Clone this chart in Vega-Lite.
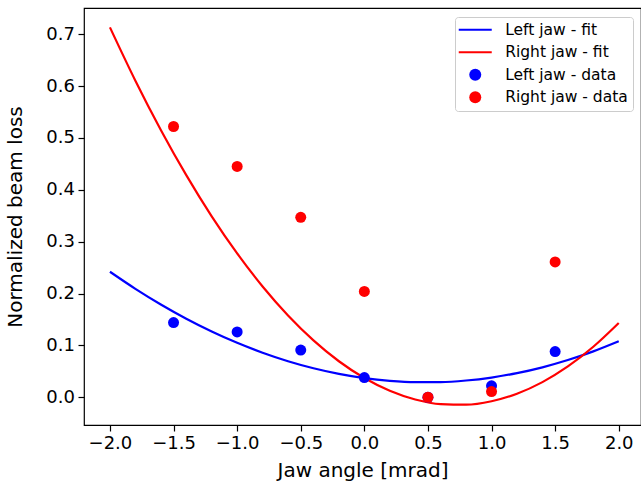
{
  "$schema": "https://vega.github.io/schema/vega-lite/v6.json",
  "width": 557,
  "height": 417,
  "autosize": {"type": "none"},
  "padding": {"left": 84, "top": 8, "right": 0, "bottom": 60},
  "background": "white",
  "config": {
    "font": "DejaVu Sans",
    "view": {"stroke": "#000000", "strokeWidth": 1.2},
    "axis": {
      "domain": false,
      "grid": false,
      "tickColor": "#000000",
      "tickSize": 6,
      "tickWidth": 1.2,
      "labelFont": "DejaVu Sans",
      "labelFontSize": 18,
      "labelColor": "#000000",
      "titleFont": "DejaVu Sans",
      "titleFontSize": 20,
      "titleFontWeight": "normal",
      "titleColor": "#000000"
    }
  },
  "data": {
    "values": [
      {"x": -2.0, "y": 0.242, "series": "Left jaw - fit"},
      {"x": -1.8, "y": 0.2091, "series": "Left jaw - fit"},
      {"x": -1.6, "y": 0.1789, "series": "Left jaw - fit"},
      {"x": -1.4, "y": 0.1515, "series": "Left jaw - fit"},
      {"x": -1.2, "y": 0.1269, "series": "Left jaw - fit"},
      {"x": -1.0, "y": 0.105, "series": "Left jaw - fit"},
      {"x": -0.8, "y": 0.0859, "series": "Left jaw - fit"},
      {"x": -0.6, "y": 0.0695, "series": "Left jaw - fit"},
      {"x": -0.4, "y": 0.0559, "series": "Left jaw - fit"},
      {"x": -0.2, "y": 0.0451, "series": "Left jaw - fit"},
      {"x": 0.0, "y": 0.037, "series": "Left jaw - fit"},
      {"x": 0.2, "y": 0.0317, "series": "Left jaw - fit"},
      {"x": 0.4, "y": 0.0291, "series": "Left jaw - fit"},
      {"x": 0.6, "y": 0.0293, "series": "Left jaw - fit"},
      {"x": 0.8, "y": 0.0323, "series": "Left jaw - fit"},
      {"x": 1.0, "y": 0.038, "series": "Left jaw - fit"},
      {"x": 1.2, "y": 0.0465, "series": "Left jaw - fit"},
      {"x": 1.4, "y": 0.0577, "series": "Left jaw - fit"},
      {"x": 1.6, "y": 0.0717, "series": "Left jaw - fit"},
      {"x": 1.8, "y": 0.0885, "series": "Left jaw - fit"},
      {"x": 2.0, "y": 0.108, "series": "Left jaw - fit"},
      {"x": -2.0, "y": 0.7132, "series": "Right jaw - fit"},
      {"x": -1.8, "y": 0.6104, "series": "Right jaw - fit"},
      {"x": -1.6, "y": 0.5154, "series": "Right jaw - fit"},
      {"x": -1.4, "y": 0.4282, "series": "Right jaw - fit"},
      {"x": -1.2, "y": 0.3488, "series": "Right jaw - fit"},
      {"x": -1.0, "y": 0.2773, "series": "Right jaw - fit"},
      {"x": -0.8, "y": 0.2136, "series": "Right jaw - fit"},
      {"x": -0.6, "y": 0.1577, "series": "Right jaw - fit"},
      {"x": -0.4, "y": 0.1097, "series": "Right jaw - fit"},
      {"x": -0.2, "y": 0.0694, "series": "Right jaw - fit"},
      {"x": 0.0, "y": 0.037, "series": "Right jaw - fit"},
      {"x": 0.2, "y": 0.0124, "series": "Right jaw - fit"},
      {"x": 0.4, "y": -0.0044, "series": "Right jaw - fit"},
      {"x": 0.6, "y": -0.0133, "series": "Right jaw - fit"},
      {"x": 0.8, "y": -0.0144, "series": "Right jaw - fit"},
      {"x": 1.0, "y": -0.0077, "series": "Right jaw - fit"},
      {"x": 1.2, "y": 0.0068, "series": "Right jaw - fit"},
      {"x": 1.4, "y": 0.0292, "series": "Right jaw - fit"},
      {"x": 1.6, "y": 0.0594, "series": "Right jaw - fit"},
      {"x": 1.8, "y": 0.0974, "series": "Right jaw - fit"},
      {"x": 2.0, "y": 0.1432, "series": "Right jaw - fit"},
      {"x": -1.5, "y": 0.144, "series": "Left jaw - data"},
      {"x": -1.0, "y": 0.126, "series": "Left jaw - data"},
      {"x": -0.5, "y": 0.091, "series": "Left jaw - data"},
      {"x": 0.0, "y": 0.038, "series": "Left jaw - data"},
      {"x": 0.5, "y": 0.0, "series": "Left jaw - data"},
      {"x": 1.0, "y": 0.022, "series": "Left jaw - data"},
      {"x": 1.5, "y": 0.088, "series": "Left jaw - data"},
      {"x": -1.5, "y": 0.522, "series": "Right jaw - data"},
      {"x": -1.0, "y": 0.445, "series": "Right jaw - data"},
      {"x": -0.5, "y": 0.347, "series": "Right jaw - data"},
      {"x": 0.0, "y": 0.204, "series": "Right jaw - data"},
      {"x": 0.5, "y": 0.0, "series": "Right jaw - data"},
      {"x": 1.0, "y": 0.011, "series": "Right jaw - data"},
      {"x": 1.5, "y": 0.261, "series": "Right jaw - data"}
    ]
  },
  "encoding": {
    "x": {
      "field": "x", "type": "quantitative",
      "scale": {"domain": [-2.204, 2.175], "nice": false, "zero": false},
      "axis": {"title": "Jaw angle [mrad]", "values": [-2, -1.5, -1, -0.5, 0, 0.5, 1, 1.5, 2], "format": ".1f", "labelPadding": 3, "titlePadding": 8}
    },
    "y": {
      "field": "y", "type": "quantitative",
      "scale": {"domain": [-0.0535, 0.7505], "nice": false, "zero": false},
      "axis": {"title": "Normalized beam loss", "values": [0, 0.1, 0.2, 0.3, 0.4, 0.5, 0.6, 0.7], "format": ".1f", "labelPadding": 3.5, "titlePadding": 20}
    },
    "color": {
      "field": "series", "type": "nominal",
      "scale": {
        "domain": ["Left jaw - fit", "Right jaw - fit", "Left jaw - data", "Right jaw - data"],
        "range": ["#0000ff", "#ff0000", "#0000ff", "#ff0000"]
      },
      "legend": {
        "title": null,
        "orient": "none",
        "legendX": 371,
        "legendY": 9,
        "padding": 5,
        "strokeColor": "#cccccc",
        "fillColor": "rgba(255,255,255,0.8)",
        "cornerRadius": 3,
        "labelFont": "DejaVu Sans",
        "labelFontSize": 15.5,
        "labelColor": "#000000",
        "symbolSize": 144,
        "symbolOffset": 7.5,
        "labelOffset": 22.2,
        "rowPadding": 5.5,
        "encode": {
          "symbols": {
            "update": {
              "shape": {"signal": "datum.index < 2 ? 'stroke' : 'circle'"},
              "size": {"signal": "datum.index < 2 ? 1089 : 144"},
              "strokeWidth": {"signal": "datum.index < 2 ? 2.2 : 0"}
            }
          }
        }
      }
    }
  },
  "layer": [
    {
      "transform": [{"filter": "indexof(datum.series, 'fit') >= 0"}],
      "mark": {"type": "line", "strokeWidth": 2.2, "interpolate": "monotone", "clip": true},
      "encoding": {"detail": {"field": "series"}}
    },
    {
      "transform": [{"filter": "indexof(datum.series, 'data') >= 0"}],
      "mark": {"type": "point", "filled": true, "size": 121, "opacity": 1, "shape": "circle"}
    }
  ]
}
